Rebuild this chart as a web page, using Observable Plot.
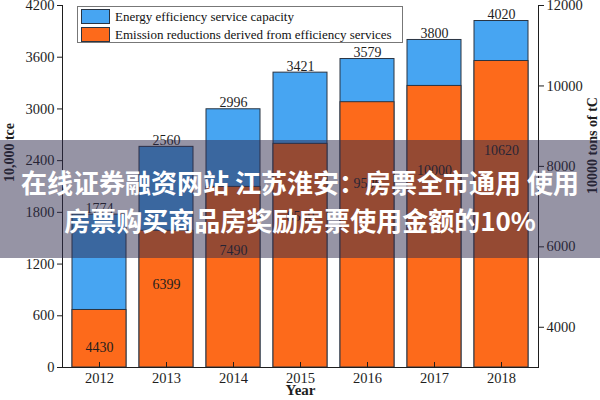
<!DOCTYPE html>
<html><head><meta charset="utf-8">
<script src="https://cdn.jsdelivr.net/npm/d3@7"></script>
<script src="https://cdn.jsdelivr.net/npm/@observablehq/plot@0.6"></script>
<style>
body{margin:0;background:#fff;}
#wrap{position:relative;width:600px;height:400px;overflow:hidden;}
#legend{position:absolute;left:77px;top:6px;width:326px;height:37px;border:1px solid #777;background:#fff;font-family:"Liberation Serif",serif;font-size:13px;color:#111;box-sizing:border-box;padding-top:1px;}
.row{display:flex;align-items:center;height:17px;margin-bottom:1px;white-space:nowrap;}
.sw{width:29px;height:15px;border:1px solid #2a3442;margin-left:3px;margin-right:5px;box-sizing:border-box;}
#wm{position:absolute;left:0;top:140px;width:600px;height:118px;background:rgba(45,42,75,0.5);color:#fff;font-family:"Noto Sans CJK SC","Noto Sans",sans-serif;font-weight:bold;font-size:26px;text-align:center;line-height:38px;padding-top:23px;box-sizing:border-box;white-space:nowrap;}
</style></head>
<body>
<div id="wrap">
  <div id="chart"></div>
  <div id="legend"></div>
  <div id="wm"></div>
</div>
<script>
const years = ["2012","2013","2014","2015","2016","2017","2018"];
const capacity = [1774, 2560, 2996, 3421, 3579, 3800, 4020];
const emissions = [4430, 6399, 7490, 8560, 9596, 10000, 10620];
const leftTicks = [0, 600, 1200, 1800, 2400, 3000, 3600, 4200];
const rightTicks = [4000, 6000, 8000, 10000, 12000];
const seriesNames = ["Energy efficiency service capacity", "Emission reductions derived from efficiency services"];
const leftLabel = "10,000 tce";
const rightLabel = "10000 tons of tC";
const xLabel = "Year";
const watermark = ["在线证券融资网站 江苏淮安：房票全市通用 使用", "房票购买商品房奖励房票使用金额的10%"];

const leftMax = 4200, rightMin = 3000, rightMax = 12000;
const toLeft = v => (v - rightMin) * leftMax / (rightMax - rightMin);
const toRight = v => Math.round(v * (rightMax - rightMin) / leftMax + rightMin);

const blue = "#47a5f2", orange = "#fd6a1b", edge = "#2a3442", ink = "#1e1e1e";
const data = years.map((year, i) => ({year, cap: capacity[i], em: emissions[i]}));

const chart = Plot.plot({
  width: 600, height: 400,
  marginTop: 5, marginBottom: 33, marginLeft: 62, marginRight: 62,
  style: {fontFamily: "'Liberation Serif', serif", fontSize: "14.5px", color: ink, background: "transparent"},
  x: {domain: years, paddingInner: 0.19, paddingOuter: 0.1, axis: null},
  y: {domain: [0, leftMax], axis: null},
  marks: [
    Plot.barY(data, {x: "year", y1: 0, y2: "cap", fill: blue, stroke: edge, strokeWidth: 1}),
    Plot.barY(data, {x: "year", y1: 0, y2: d => toLeft(d.em), fill: orange, stroke: edge, strokeWidth: 1}),
    Plot.text(data, {x: "year", y: "cap", text: d => String(d.cap), lineAnchor: "bottom", dy: -2, fontSize: 14, fill: ink}),
    Plot.text(data, {x: "year", y: d => toLeft(d.em * 0.79), text: d => String(d.em), fontSize: 14, fill: ink}),
    Plot.axisY({anchor: "left", ticks: leftTicks, tickFormat: v => String(v), tickSize: 5, tickPadding: 3, label: null}),
    Plot.axisY({anchor: "right", ticks: rightTicks.map(toLeft), tickFormat: v => String(toRight(v)), tickSize: 5, tickPadding: 3, label: null}),
    Plot.axisX({anchor: "bottom", tickSize: 0, tickPadding: 5, label: null}),
    Plot.axisX({anchor: "bottom", tickSize: 5, dy: -5, text: null, label: null}),
    Plot.frame({anchor: "left", stroke: ink}),
    Plot.frame({anchor: "bottom", stroke: ink}),
    Plot.frame({anchor: "right", stroke: ink}),
    Plot.text([xLabel], {frameAnchor: "bottom", dy: 27, fontWeight: "bold", fontSize: 15, fill: ink}),
    Plot.text([leftLabel], {frameAnchor: "left", textAnchor: "middle", lineAnchor: "middle", rotate: -90, dx: -53, dy: -34, fontWeight: "bold", fontSize: 14, fill: ink}),
    Plot.text([rightLabel], {frameAnchor: "right", textAnchor: "middle", lineAnchor: "middle", rotate: -90, dx: 54, dy: -41, fontWeight: "bold", fontSize: 14, fill: ink})
  ]
});
document.getElementById("chart").appendChild(chart);

const legend = document.getElementById("legend");
[blue, orange].forEach((c, i) => {
  const row = document.createElement("div");
  row.className = "row";
  const sw = document.createElement("div");
  sw.className = "sw"; sw.style.background = c;
  const t = document.createElement("span");
  t.textContent = seriesNames[i];
  row.appendChild(sw); row.appendChild(t);
  legend.appendChild(row);
});
document.getElementById("wm").innerHTML = watermark.map(s => `<div>${s}</div>`).join("");
</script>
</body></html>
